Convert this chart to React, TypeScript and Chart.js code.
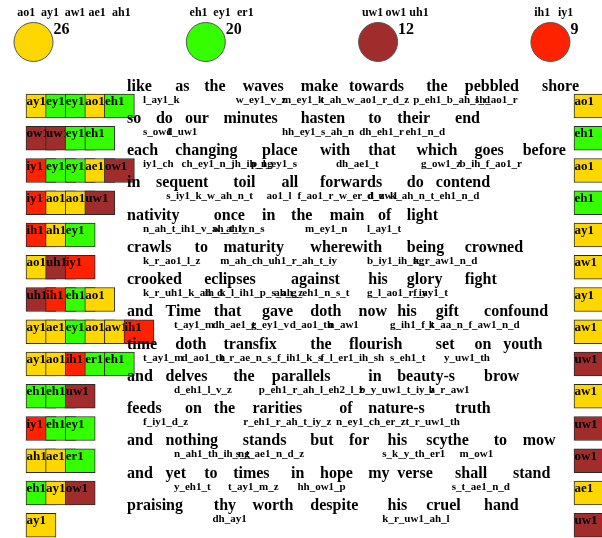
import React, { useEffect, useRef } from 'react';
import { Chart, registerables } from 'chart.js';

Chart.register(...registerables);

// ---------- data ----------
const groupVowels = [
  ['ao1', 'ay1', 'aw1', 'ae1', 'ah1'],
  ['eh1', 'ey1', 'er1'],
  ['uw1', 'ow1', 'uh1'],
  ['ih1', 'iy1'],
];
const groupCounts = [26, 20, 12, 9];
const groupColors = ['#FFD700', '#33FF00', '#A02C2C', '#FF2200'];

const poemLines = [
  'like as the waves make towards the pebbled shore',
  'so do our minutes hasten to their end',
  'each changing place with that which goes before',
  'in sequent toil all forwards do contend',
  'nativity once in the main of light',
  'crawls to maturity wherewith being crowned',
  'crooked eclipses against his glory fight',
  'and Time that gave doth now his gift confound',
  'time doth transfix the flourish set on youth',
  'and delves the parallels in beauty-s brow',
  'feeds on the rarities of nature-s truth',
  'and nothing stands but for his scythe to mow',
  'and yet to times in hope my verse shall stand',
  'praising thy worth despite his cruel hand',
];

// phoneme string under each word ('' = not shown)
const linePhonemes = [
  ['l_ay1_k', '', '', 'w_ey1_v_z', 'm_ey1_k', 't_ah_w_ao1_r_d_z', '', 'p_eh1_b_ah_l_d', 'sh_ao1_r'],
  ['s_ow1', 'd_uw1', '', '', 'hh_ey1_s_ah_n', '', 'dh_eh1_r', 'eh1_n_d'],
  ['iy1_ch', 'ch_ey1_n_jh_ih_ng', 'p_l_ey1_s', '', 'dh_ae1_t', '', 'g_ow1_z', 'b_ih_f_ao1_r'],
  ['', 's_iy1_k_w_ah_n_t', '', 'ao1_l', 'f_ao1_r_w_er_d_z', 'd_uw1', 'k_ah_n_t_eh1_n_d'],
  ['n_ah_t_ih1_v_ah_t_iy', 'w_ah1_n_s', '', '', 'm_ey1_n', '', 'l_ay1_t'],
  ['k_r_ao1_l_z', '', 'm_ah_ch_uh1_r_ah_t_iy', '', 'b_iy1_ih_ng', 'k_r_aw1_n_d'],
  ['k_r_uh1_k_ah_d', 'ih_k_l_ih1_p_s_ah_z', 'ah_g_eh1_n_s_t', '', 'g_l_ao1_r_iy', 'f_ay1_t'],
  ['', 't_ay1_m', 'dh_ae1_t', 'g_ey1_v', 'd_ao1_th', 'n_aw1', '', 'g_ih1_f_t', 'k_aa_n_f_aw1_n_d'],
  ['t_ay1_m', 'd_ao1_th', 't_r_ae_n_s_f_ih1_k_s', '', 'f_l_er1_ih_sh', 's_eh1_t', '', 'y_uw1_th'],
  ['', 'd_eh1_l_v_z', '', 'p_eh1_r_ah_l_eh2_l_z', '', 'b_y_uw1_t_iy_z', 'b_r_aw1'],
  ['f_iy1_d_z', '', '', 'r_eh1_r_ah_t_iy_z', '', 'n_ey1_ch_er_z', 't_r_uw1_th'],
  ['', 'n_ah1_th_ih_ng', 's_t_ae1_n_d_z', '', '', '', 's_k_y_th_er1', '', 'm_ow1'],
  ['', 'y_eh1_t', '', 't_ay1_m_z', '', 'hh_ow1_p', '', '', '', 's_t_ae1_n_d'],
  ['', 'dh_ay1', '', '', '', 'k_r_uw1_ah_l', ''],
];

// stressed vowels shown in the left cell rows
const leftVowels = [
  ['ay1', 'ey1', 'ey1', 'ao1', 'eh1'],
  ['ow1', 'uw1', 'ey1', 'eh1'],
  ['iy1', 'ey1', 'ey1', 'ae1', 'ow1'],
  ['iy1', 'ao1', 'ao1', 'uw1'],
  ['ih1', 'ah1', 'ey1'],
  ['ao1', 'uh1', 'iy1'],
  ['uh1', 'ih1', 'eh1', 'ao1'],
  ['ay1', 'ae1', 'ey1', 'ao1', 'aw1', 'ih1'],
  ['ay1', 'ao1', 'ih1', 'er1', 'eh1'],
  ['eh1', 'eh1', 'uw1'],
  ['iy1', 'eh1', 'ey1'],
  ['ah1', 'ae1', 'er1'],
  ['eh1', 'ay1', 'ow1'],
  ['ay1'],
];

// rhyme vowel of each line (right column)
const rhymeVowels = ['ao1', 'eh1', 'ao1', 'eh1', 'ay1', 'aw1', 'ay1', 'aw1', 'uw1', 'aw1', 'uw1', 'ow1', 'ae1', 'uw1'];

// ---------- layout ----------
const W = 602;
const H = 538;
const FONT = '"Liberation Serif", "Times New Roman", serif';
const LEGEND_X0 = 33.5;
const LEGEND_DX = 172.3;
const LEGEND_Y = 42;
const LEGEND_R = 19.5;
const LEGEND_LABEL_DX = 23.7;
const LINE_Y0 = 90.7;
const LINE_DY = 32.25;
const TEXT_X0 = 127;
const CHAR_W = 9.65;
const PH_X0 = 143;
const PH_SCALE = 0.8;
const PH_DY = 11.8;
const CELL_X0 = 26;
const CELL_DX = 19.6;
const CELL_W = 30;
const CELL_TOP0 = 94;
const CELL_H = 24;
const RHYME_X0 = 574;

const colorOf = (v: string) => {
  const g = groupVowels.findIndex((a) => a.includes(v));
  return groupColors[g < 0 ? 0 : g];
};
const cellCenterY = (line: number) => CELL_TOP0 + line * LINE_DY + CELL_H / 2;

export default function App() {
  const ref = useRef<HTMLCanvasElement | null>(null);

  useEffect(() => {
    const canvas = ref.current;
    if (!canvas) return;

    const maxCells = Math.max(...leftVowels.map((r) => r.length));
    const cellDatasets: any[] = [];
    for (let k = 0; k < maxCells; k++) {
      const pts: any[] = [];
      const cols: string[] = [];
      const labs: string[] = [];
      leftVowels.forEach((row, L) => {
        if (row.length > k) {
          pts.push({ x: [CELL_X0 + k * CELL_DX, CELL_X0 + k * CELL_DX + CELL_W], y: cellCenterY(L) });
          cols.push(colorOf(row[k]));
          labs.push(row[k]);
        }
      });
      cellDatasets.push({
        type: 'bar',
        indexAxis: 'y',
        data: pts,
        backgroundColor: cols,
        borderColor: '#2a2a2a',
        borderWidth: 1,
        borderSkipped: false,
        grouped: false,
        barThickness: CELL_H,
        maxBarThickness: CELL_H,
        order: 100 - k,
        vowelLabels: labs,
      });
    }
    cellDatasets.push({
      type: 'bar',
      indexAxis: 'y',
      data: rhymeVowels.map((v, L) => ({ x: [RHYME_X0, RHYME_X0 + CELL_W], y: cellCenterY(L) })),
      backgroundColor: rhymeVowels.map(colorOf),
      borderColor: '#2a2a2a',
      borderWidth: 1,
      borderSkipped: false,
      grouped: false,
      barThickness: CELL_H,
      maxBarThickness: CELL_H,
      order: 50,
      vowelLabels: rhymeVowels,
    });

    const legendDataset: any = {
      type: 'scatter',
      data: groupCounts.map((_, g) => ({ x: LEGEND_X0 + g * LEGEND_DX, y: LEGEND_Y })),
      backgroundColor: groupColors,
      borderColor: '#555',
      borderWidth: 1,
      pointRadius: LEGEND_R,
      pointHoverRadius: LEGEND_R,
      order: 0,
    };

    const cellLabelPlugin = {
      id: 'cellLabels',
      afterDatasetDraw(chart: any, args: any) {
        const ds = chart.data.datasets[args.index];
        if (!ds.vowelLabels) return;
        const ctx = chart.ctx;
        ctx.save();
        ctx.font = `bold 13px ${FONT}`;
        ctx.fillStyle = '#000';
        ctx.textBaseline = 'alphabetic';
        ctx.textAlign = 'left';
        args.meta.data.forEach((el: any, i: number) => {
          const left = Math.min(el.x, el.base);
          const top = el.y - el.height / 2;
          ctx.fillText(ds.vowelLabels[i], left + 0.5, top + 11);
        });
        ctx.restore();
      },
    };

    const textPlugin = {
      id: 'poemText',
      afterDatasetsDraw(chart: any) {
        const ctx = chart.ctx;
        const xs = chart.scales.x;
        const ys = chart.scales.y;
        ctx.save();
        ctx.fillStyle = '#000';
        ctx.textAlign = 'left';
        ctx.textBaseline = 'alphabetic';

        // legend labels and counts
        groupVowels.forEach((vs, g) => {
          const cx = LEGEND_X0 + g * LEGEND_DX;
          ctx.font = `bold 12px ${FONT}`;
          vs.forEach((v, i) => {
            ctx.fillText(v, xs.getPixelForValue(cx - 16.2 + i * LEGEND_LABEL_DX), ys.getPixelForValue(15.5));
          });
          ctx.font = `bold 16px ${FONT}`;
          ctx.fillText(String(groupCounts[g]), xs.getPixelForValue(cx + 20), ys.getPixelForValue(33.5));
        });

        // poem lines and phonemes
        poemLines.forEach((line, L) => {
          const words = line.split(' ');
          const base = LINE_Y0 + L * LINE_DY;
          let c = 0;
          const starts: number[] = [];
          words.forEach((w) => {
            starts.push(TEXT_X0 + c * CHAR_W);
            c += w.length + 1;
          });
          ctx.font = `bold 16px ${FONT}`;
          words.forEach((w, i) => {
            ctx.fillText(w, xs.getPixelForValue(starts[i]), ys.getPixelForValue(base));
          });
          ctx.font = `bold 11px ${FONT}`;
          (linePhonemes[L] || []).forEach((ph, i) => {
            if (!ph) return;
            const px = PH_X0 + PH_SCALE * (starts[i] - TEXT_X0);
            ctx.fillText(ph, xs.getPixelForValue(px), ys.getPixelForValue(base + PH_DY));
          });
        });
        ctx.restore();
      },
    };

    const chart = new Chart(canvas, {
      type: 'bar',
      data: { datasets: [legendDataset, ...cellDatasets] },
      options: {
        responsive: false,
        animation: false,
        events: [],
        layout: { padding: 0, autoPadding: false },
        plugins: { legend: { display: false }, tooltip: { enabled: false } },
        scales: {
          x: { type: 'linear', min: 0, max: W, display: false, offset: false, grace: 0 },
          y: { type: 'linear', min: 0, max: H, reverse: true, display: false, offset: false, grace: 0 },
        },
      } as any,
      plugins: [cellLabelPlugin, textPlugin],
    } as any);

    return () => chart.destroy();
  }, []);

  return (
    <div style={{ position: 'fixed', left: 0, top: 0, width: W, height: H, background: '#fff' }}>
      <canvas ref={ref} width={W} height={H} style={{ width: W, height: H, display: 'block' }} />
    </div>
  );
}
